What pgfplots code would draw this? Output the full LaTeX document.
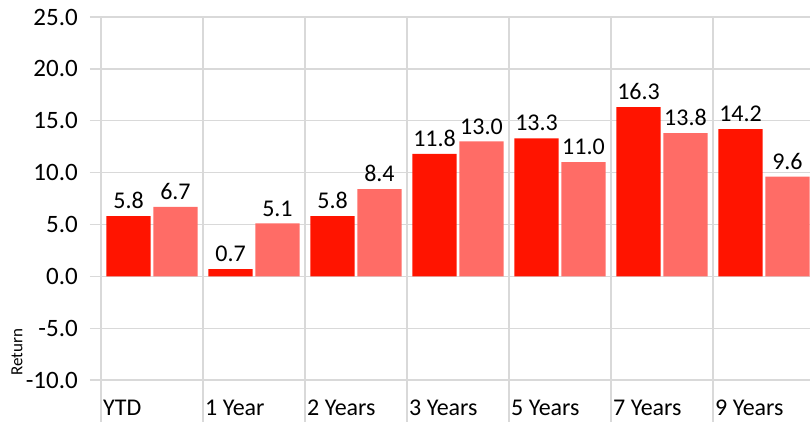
\documentclass[border=0pt]{standalone}
\usepackage{pgfplots}
\pgfplotsset{compat=1.18}
\usepackage{fontspec}
\setmainfont{Carlito}
\definecolor{barred}{RGB}{255,20,0}
\definecolor{barpink}{RGB}{255,108,102}
\definecolor{gridgray}{RGB}{217,217,217}
\begin{document}
\begin{tikzpicture}
\begin{axis}[
  scale only axis,
  width=709pt, height=404pt,
  xmin=0, xmax=6.951,
  ymin=-13.95, ymax=25,
  xtick={0,1,2,3,4,5,6},
  xticklabels={YTD,1 Year,2 Years,3 Years,5 Years,7 Years,9 Years},
  ytick={-10,-5,0,5,10,15,20,25},
  xtick pos=bottom, ytick pos=left,
  grid=major,
  grid style={gridgray, line width=1.3pt},
  axis line style={draw=none},
  tick align=outside,
  major tick length=11pt,
  tick style={gridgray, line width=1.3pt},
  /pgf/number format/assume math mode=true,
  yticklabel={\pgfmathprintnumber[fixed,fixed zerofill,precision=1]{\tick}},
  yticklabel style={font=\fontsize{25}{30}\selectfont, anchor=east, inner sep=0pt, xshift=-12pt},
  xticklabel style={font=\fontsize{24}{29}\selectfont, anchor=base west, inner sep=0pt, xshift=2pt, yshift=17pt},
  nodes near coords={\pgfmathprintnumber[fixed,fixed zerofill,precision=1,assume math mode=true]{\pgfplotspointmeta}},
  every node near coord/.append style={font=\fontsize{24}{29}\selectfont, anchor=south, inner sep=0pt, yshift=7pt, color=black},
]
\addplot[ybar, bar width=0.435, bar shift=0, fill=barred, draw=none] coordinates {
  (0.27,5.8) (1.27,0.7) (2.27,5.8) (3.27,11.8) (4.27,13.3) (5.27,16.3) (6.27,14.2)};
\addplot[ybar, bar width=0.435, bar shift=0, fill=barpink, draw=none] coordinates {
  (0.73,6.7) (1.73,5.1) (2.73,8.4) (3.73,13.0) (4.73,11.0) (5.73,13.8) (6.73,9.6)};
\end{axis}
\node[rotate=90, anchor=center, inner sep=0pt, font=\fontsize{17}{20}\selectfont] at (-84pt,69pt) {Return};
\pgfresetboundingbox
\useasboundingbox (-101pt,0pt) rectangle (709pt,421pt);
\end{tikzpicture}
\end{document}
